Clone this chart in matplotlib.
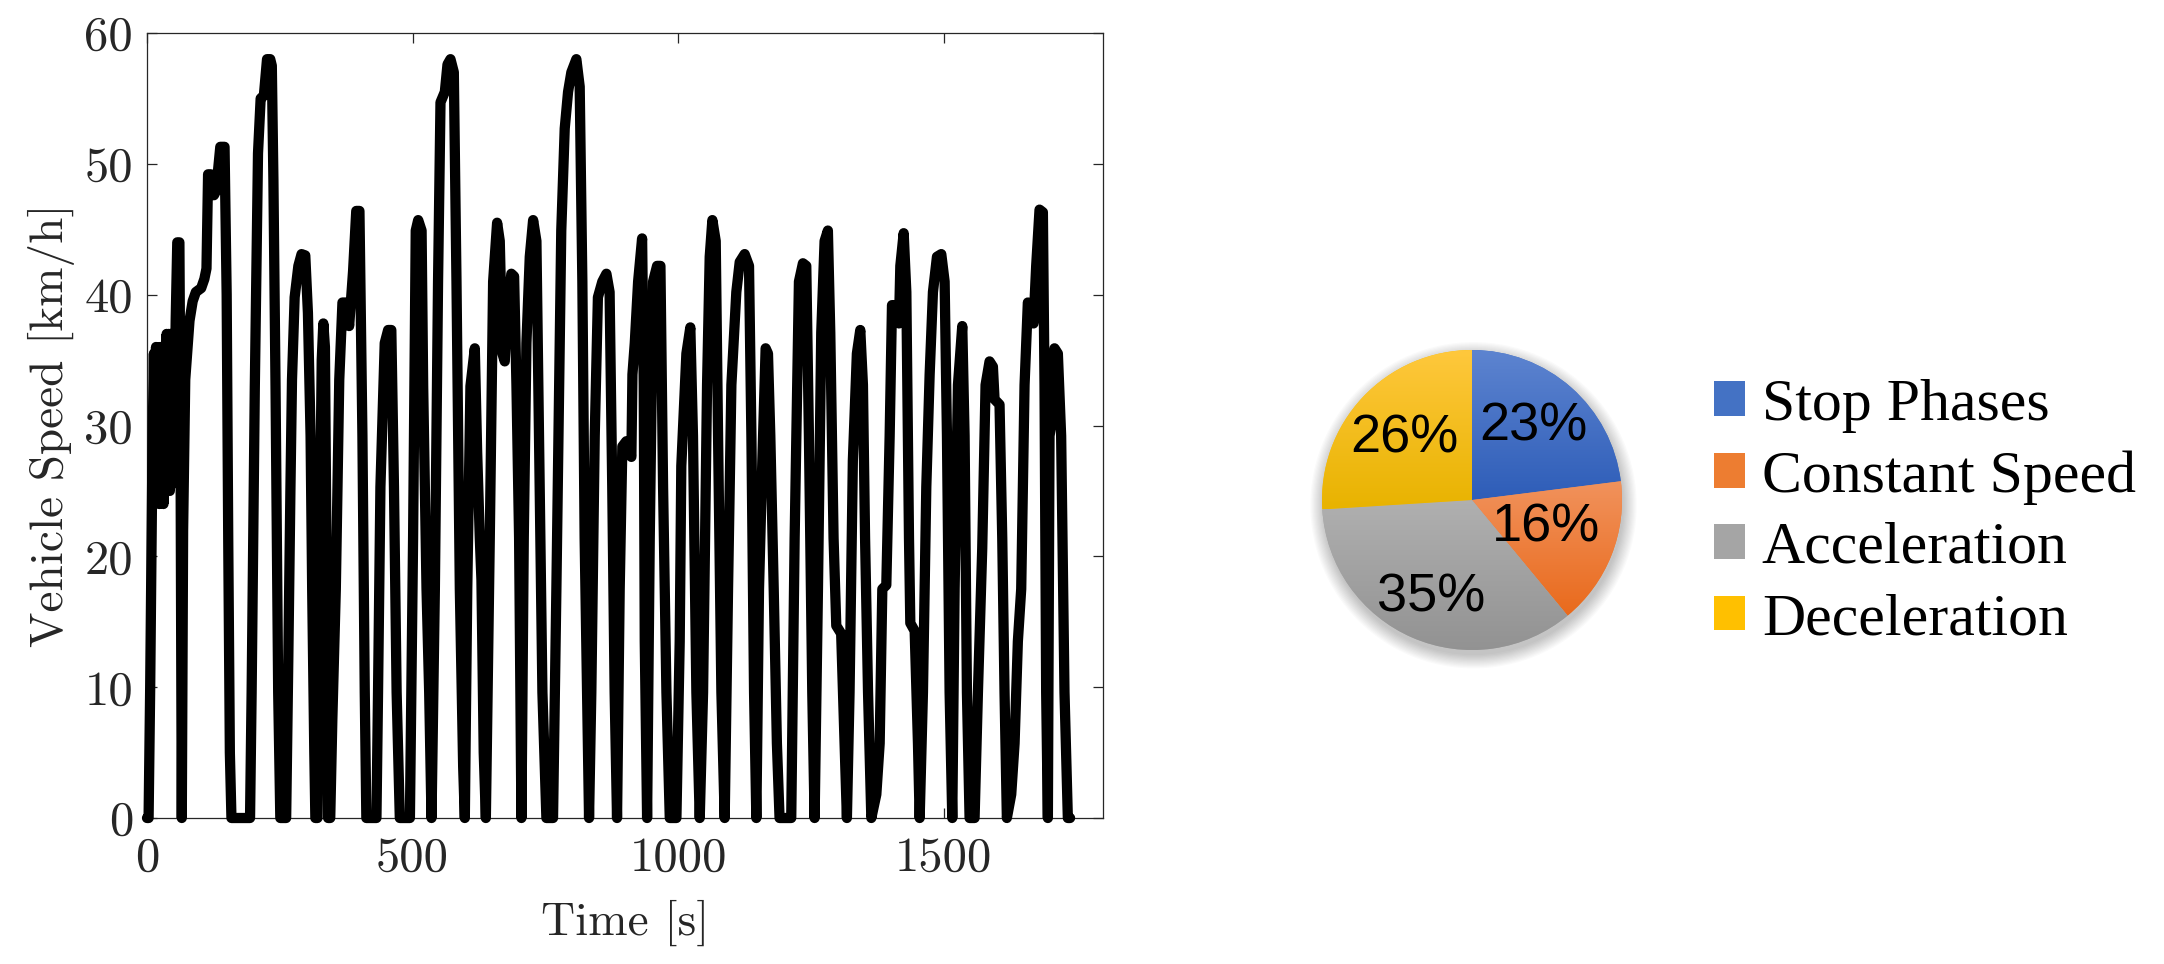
import numpy as np
import matplotlib
matplotlib.use("Agg")
import matplotlib.pyplot as plt
from matplotlib.colors import LinearSegmentedColormap
from matplotlib.patches import Patch, Circle


# ============================================
# 1. Data
# ============================================

# speed profile (time in s, speed in km/h)
TIME_S = [
    0, 3, 6, 10, 13, 15, 17, 19, 21, 23, 25, 27, 29, 31, 33, 35, 37, 39, 41, 43,
    45, 47, 49, 51, 54, 57, 61, 63, 65.5, 68, 72, 80, 86, 92, 102, 108, 112, 115,
    120, 126, 131, 134, 138, 146, 150, 153, 156, 159, 194, 197, 203, 209, 214,
    220, 226, 232, 235, 238, 242, 247, 251, 262, 266, 270, 273, 278, 285, 291,
    298, 303, 308, 311, 315, 317, 321, 325, 329, 332, 335, 338, 341, 345, 349,
    355.5, 362, 368, 375.5, 380.6, 388, 394, 400, 405.6, 410, 413, 432, 435,
    439.5, 447.6, 454, 460, 465, 470, 476, 495, 501, 506, 510.6, 517, 520,
    526.3, 531.3, 535.7, 542, 548, 552.6, 560.8, 565.8, 571.4, 577.7, 582.7,
    589, 595.3, 598.4, 603, 609, 617.2, 621.6, 626.6, 629.7, 634, 638, 645.4,
    651.7, 659.2, 664.2, 669.2, 673.6, 678, 686, 691.2, 695.6, 700.6, 705,
    709.4, 714.4, 720.7, 727, 733.2, 738, 744.5, 752, 764.5, 770.8, 780, 786.5,
    792.8, 799, 808.4, 814.7, 819.7, 824, 828.5, 832.3, 836.6, 843, 849, 857.3,
    865, 871, 876, 880.5, 885, 890, 895, 902.5, 912, 914, 918.4, 924.7, 932.2,
    935.3, 937.2, 941.6, 946.6, 952.9, 960.4, 966.7, 971.7, 978, 984.3, 996.8,
    1003, 1006, 1015.6, 1023, 1028, 1034.4, 1040.7, 1047, 1054.5, 1059.5,
    1064.5, 1070.8, 1075.2, 1081.5, 1087.7, 1094, 1100.3, 1109.6, 1116, 1125.3,
    1133.5, 1138, 1143, 1147.3, 1152.3, 1158.6, 1164.8, 1169.2, 1173.6, 1180,
    1186, 1191, 1213, 1219.4, 1227.5, 1235, 1241.3, 1246.3, 1252.6, 1257,
    1263.3, 1269.5, 1275.8, 1282, 1286.5, 1292.7, 1297.8, 1307, 1313.4, 1317.8,
    1322.8, 1329, 1336.6, 1343, 1348, 1352, 1357.6, 1363.8, 1373.2, 1379.5,
    1384.5, 1392, 1398.3, 1402.7, 1410.9, 1415.9, 1418.4, 1424.7, 1429.7,
    1434.7, 1437.2, 1445.4, 1451.6, 1454.8, 1461, 1467.3, 1473.6, 1479.8,
    1487.4, 1495.5, 1501.8, 1506.2, 1511.2, 1516.2, 1520.6, 1526.9, 1535,
    1539.4, 1543.8, 1548.8, 1558.2, 1564.5, 1572.6, 1578.9, 1586.4, 1592.7,
    1595.8, 1605.2, 1610.3, 1614.6, 1619, 1627.2, 1633.5, 1639.7, 1646, 1652.3,
    1658.5, 1664.8, 1669.2, 1674.2, 1680.5, 1686.8, 1689.9, 1693, 1696.2,
    1699.3, 1702.4, 1708.7, 1715, 1721.2, 1727.5, 1733.8, 1738,
]

SPEED_KMH = [
    0, 0, 10, 27, 35.5, 27, 36, 25, 35.8, 24, 36, 24.5, 36, 24, 35.8, 25, 37,
    25.5, 37, 25, 37, 25.5, 36.5, 28, 38, 44, 44, 30, 0, 22, 33.5, 38, 39.5,
    40.2, 40.5, 41.2, 42, 49.2, 49.2, 47.6, 48, 49.6, 51.3, 51.3, 40, 21, 5, 0,
    0, 9.6, 33, 50.8, 55, 55.2, 58, 58, 57.5, 48.8, 33, 9.6, 0, 0, 12, 25,
    33.5, 39.8, 42.2, 43.1, 43, 38.6, 29.2, 17.5, 5, 0, 0, 20, 35, 37.8, 36,
    20, 0, 0, 7.6, 17.5, 33.5, 39.4, 39.4, 37.6, 41.8, 46.4, 46.4, 29.2, 9.6,
    0, 0, 9.6, 25.3, 36.3, 37.3, 37.3, 25.3, 9.6, 0, 0, 21.4, 44.9, 45.7,
    44.9, 33, 17.5, 9.6, 0, 17.5, 41, 54.7, 55.5, 57.6, 58, 57, 41, 17.5, 3.9,
    0, 17.5, 33, 35.9, 28, 21.4, 18.2, 5, 0, 21.4, 41, 45.5, 44.1, 35.5, 34.9,
    38.6, 41.6, 41.4, 33.1, 21.4, 0, 21.4, 36.3, 42.9, 45.7, 44.1, 29.2, 9.6,
    0, 0, 17.5, 44.9, 52.7, 55.5, 57, 58, 55.9, 41, 21.4, 9.6, 0, 9.6, 29.2,
    39.8, 41, 41.6, 40.2, 25.3, 9.6, 0, 17.5, 28.4, 28.8, 27.6, 33.9, 36.3,
    41, 44.3, 33.1, 13.5, 0, 21.4, 41, 42.2, 42.2, 25.3, 9.6, 0, 0, 13.5,
    26.9, 35.5, 37.5, 29.2, 9.6, 0, 9.6, 33.1, 42.9, 45.7, 44.1, 29.2, 9.6, 0,
    17.5, 33.1, 40.2, 42.5, 43.1, 42.2, 29.2, 9.6, 0, 17.5, 27.3, 35.9, 35.5,
    29.2, 17.5, 5.7, 0, 0, 21.4, 41, 42.4, 42.2, 29.2, 9.6, 0, 17.5, 37.1,
    44.1, 44.9, 37.1, 21.4, 14.7, 14.1, 5.7, 0, 9.6, 27.3, 35.5, 37.3, 33.1,
    21.4, 9.6, 0, 1.8, 5.7, 17.5, 17.8, 29.2, 39.2, 39.2, 37.8, 42.2, 44.7,
    40.2, 21.4, 14.9, 14.3, 5.7, 0, 9.6, 25.3, 33.9, 40.2, 42.9, 43.1, 41,
    29.2, 9.6, 0, 17.5, 33.1, 37.6, 29.2, 9.6, 0, 0, 9.6, 20.6, 33.1, 34.9,
    34.5, 32, 31.6, 21.4, 9.6, 0, 1.8, 5.7, 13.5, 17.5, 33.1, 39.4, 39, 37.8,
    42.2, 46.5, 46.3, 33.1, 9.6, 0, 29.2, 30, 35.9, 35.5, 29.2, 9.6, 0, 0,
]

# share of driving phases
PHASES = ["Stop Phases", "Constant Speed", "Acceleration", "Deceleration"]
SHARES = [23, 16, 35, 26]
PCT_LABELS = ["23%", "16%", "35%", "26%"]

# office style colours (mid, top of gradient, bottom of gradient)
COL_MID = ["#4472C4", "#ED7D31", "#A5A5A5", "#FFC000"]
COL_TOP = ["#5D84D0", "#F1925C", "#B0B0B0", "#FFC83D"]
COL_BOT = ["#2E5DB8", "#E96A1C", "#929292", "#E8B300"]

# where the percent labels sit inside the pie (pie units)
PCT_POS = [(0.41, 0.49), (0.49, -0.18), (-0.27, -0.65), (-0.45, 0.41)]


# ============================================
# 2. Figure
# ============================================

W, H = 2164, 964
fig = plt.figure(figsize=(W / 100, H / 100), dpi=100)
fig.patch.set_facecolor("white")

cm_font = "cmr10"


# ============================================
# 3. Speed profile
# ============================================

ax = fig.add_axes([147 / W, (H - 818) / H, 956 / W, 785 / H])

ax.plot(TIME_S, SPEED_KMH, color="black", linewidth=7.4,
        solid_joinstyle="round", solid_capstyle="round", clip_on=False, zorder=3)

ax.set_xlim(0, 1800)
ax.set_ylim(0, 60)
ax.set_xticks([0, 500, 1000, 1500])
ax.set_yticks([0, 10, 20, 30, 40, 50, 60])

for s in ax.spines.values():
    s.set_color("#262626")
    s.set_linewidth(0.9)

ax.tick_params(direction="in", length=7, width=0.9, color="#262626",
               top=True, right=True, labelsize=35, labelcolor="#262626")
ax.tick_params(axis="y", pad=10)
ax.tick_params(axis="x", pad=13)
for lab in ax.get_xticklabels() + ax.get_yticklabels():
    lab.set_fontfamily(cm_font)

ax.set_xlabel("Time [s]", fontsize=34, fontfamily=cm_font, color="#262626",
              labelpad=14)
ax.set_ylabel("Vehicle Speed [km/h]", fontsize=34, fontfamily=cm_font,
              color="#262626", labelpad=7)


# ============================================
# 4. Pie chart
# ============================================

R_PX = 150
half = 200
ax2 = fig.add_axes([(1472 - half) / W, (H - 500 - half) / H,
                    2 * half / W, 2 * half / H])
lim = half / R_PX

# soft shadow
for i in range(12):
    ax2.add_patch(Circle((0.01, -0.035), 1.0 + 0.008 * i, color="black",
                         alpha=0.018, linewidth=0, zorder=0))

wedges, _ = ax2.pie(SHARES, startangle=90, counterclock=False, radius=1,
                    colors=COL_MID, wedgeprops=dict(linewidth=0))

grad = np.linspace(0, 1, 256).reshape(-1, 1)
for w, ct, cb in zip(wedges, COL_TOP, COL_BOT):
    ys = w.get_path().vertices[:, 1]
    cmap = LinearSegmentedColormap.from_list("g", [ct, cb])
    im = ax2.imshow(grad, cmap=cmap, extent=[-1, 1, ys.min(), ys.max()],
                    origin="upper", aspect="auto", zorder=2,
                    interpolation="bilinear")
    im.set_clip_path(w)

for txt, (px, py) in zip(PCT_LABELS, PCT_POS):
    ax2.text(px, py, txt, ha="center", va="center", fontsize=39,
             fontfamily="Liberation Sans", color="black", zorder=5)

ax2.set_xlim(-lim, lim)
ax2.set_ylim(-lim, lim)
ax2.set_aspect("equal")
ax2.axis("off")


# ============================================
# 5. Legend
# ============================================

handles = [Patch(facecolor=c, edgecolor="none") for c in COL_MID]
leg = fig.legend(handles, PHASES, loc="center left",
                 bbox_to_anchor=(1714 / W, (H - 513) / H),
                 frameon=False, borderpad=0, borderaxespad=0,
                 handlelength=0.52, handleheight=0.52, handletextpad=0.28,
                 labelspacing=0.29,
                 prop={"family": "Liberation Serif", "size": 43})

fig.savefig("out.png", dpi=100, facecolor="white")
